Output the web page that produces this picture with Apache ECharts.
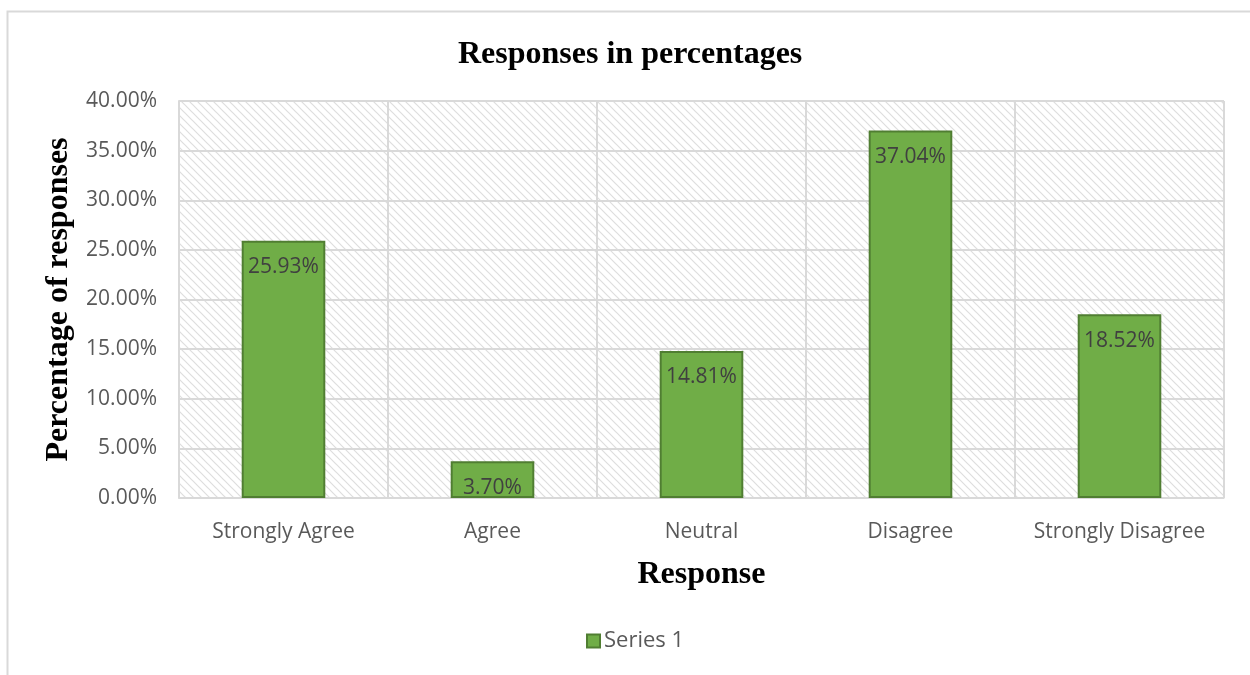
<!DOCTYPE html>
<html>
<head>
<meta charset="utf-8">
<script src="https://cdn.jsdelivr.net/npm/echarts@6/dist/echarts.min.js"></script>
<style>
html, body { margin: 0; padding: 0; background: #fff; }
#echart { width: 1250px; height: 675px; }
</style>
</head>
<body>
<div id="echart"></div>
<script>
var categories = ['Strongly Agree', 'Agree', 'Neutral', 'Disagree', 'Strongly Disagree'];
var series1 = [25.93, 3.70, 14.81, 37.04, 18.52];
var yTicks = [0, 5, 10, 15, 20, 25, 30, 35, 40];

// hatch for the plot area
var hatch = document.createElement('canvas');
hatch.width = 8;
hatch.height = 8;
var ctx = hatch.getContext('2d');
ctx.fillStyle = '#ffffff';
ctx.fillRect(0, 0, 8, 8);
ctx.strokeStyle = '#dedede';
ctx.lineWidth = 1.2;
ctx.beginPath();
ctx.moveTo(-2, -2); ctx.lineTo(10, 10);
ctx.moveTo(-6, 2); ctx.lineTo(6, 14);
ctx.moveTo(2, -6); ctx.lineTo(14, 6);
ctx.stroke();

var serif = '"Liberation Serif", "DejaVu Serif", serif';
var sans = '"Open Sans", "Noto Sans", sans-serif';

var myChart = echarts.init(document.getElementById('echart'));
myChart.setOption({
	animation: false,
	graphic: [{
		type: 'rect',
		shape: { x: 7.5, y: 11.5, width: 1300, height: 700 },
		style: { fill: 'none', stroke: '#d9d9d9', lineWidth: 2 },
		silent: true
	}],
	title: {
		text: 'Responses in percentages',
		left: 453,
		top: 34,
		textStyle: { fontFamily: serif, fontSize: 32, fontWeight: 'bold', color: '#000' }
	},
	legend: {
		bottom: 18,
		left: 581,
		icon: 'rect',
		itemWidth: 13,
		itemHeight: 13,
		textStyle: { fontFamily: sans, fontSize: 22, color: '#595959', padding: [0, 0, 0, -1] },
		data: ['Series 1']
	},
	grid: {
		left: 179,
		right: 26,
		top: 101,
		bottom: 177,
		show: true,
		borderWidth: 0,
		backgroundColor: { image: hatch, repeat: 'repeat' }
	},
	xAxis: {
		type: 'category',
		data: categories,
		name: 'Response',
		nameLocation: 'middle',
		nameGap: 61,
		nameTextStyle: { fontFamily: serif, fontSize: 32, fontWeight: 'bold', color: '#000' },
		axisLine: { lineStyle: { color: '#d9d9d9', width: 1.5 } },
		axisTick: { show: false },
		axisLabel: { interval: 0, fontFamily: sans, fontSize: 21, color: '#595959', margin: 24 },
		splitLine: { show: true, interval: 0, lineStyle: { color: '#d9d9d9', width: 2 } }
	},
	yAxis: {
		type: 'value',
		min: yTicks[0],
		max: yTicks[yTicks.length - 1],
		interval: 5,
		name: 'Percentage of responses',
		nameLocation: 'middle',
		nameGap: 95,
		nameRotate: 90,
		nameTextStyle: { fontFamily: serif, fontSize: 32, fontWeight: 'bold', color: '#000' },
		axisLine: { show: true, lineStyle: { color: '#d9d9d9', width: 2 } },
		axisLabel: {
			fontFamily: sans, fontSize: 21, color: '#595959', margin: 22,
			formatter: function (v) { return v.toFixed(2) + '%'; }
		},
		splitLine: { lineStyle: { color: '#d9d9d9', width: 2 } }
	},
	series: [{
		name: 'Series 1',
		type: 'bar',
		data: series1,
		barWidth: '40%',
		itemStyle: { color: '#70ad47', borderColor: '#507e32', borderWidth: 2 },
		label: {
			show: true,
			position: 'insideTop',
			distance: 16,
			fontFamily: sans,
			fontSize: 21,
			color: '#404040',
			formatter: function (p) { return p.value.toFixed(2) + '%'; }
		}
	}]
});
</script>
</body>
</html>
